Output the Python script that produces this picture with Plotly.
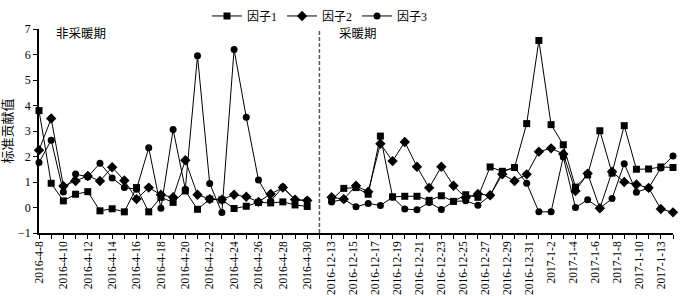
import plotly.graph_objects as go

# ---- data ----
period1_dates = ["2016-4-8", "2016-4-9", "2016-4-10", "2016-4-11", "2016-4-12", "2016-4-13",
                 "2016-4-14", "2016-4-15", "2016-4-16", "2016-4-17", "2016-4-18", "2016-4-19",
                 "2016-4-20", "2016-4-21", "2016-4-22", "2016-4-23", "2016-4-24", "2016-4-25",
                 "2016-4-26", "2016-4-27", "2016-4-28", "2016-4-29", "2016-4-30"]
period2_labels = ["2016-12-13", "2016-12-15", "2016-12-17", "2016-12-19", "2016-12-21",
                  "2016-12-23", "2016-12-25", "2016-12-27", "2016-12-29", "2016-12-31",
                  "2017-1-2", "2017-1-4", "2017-1-6", "2017-1-8", "2017-1-10", "2017-1-13"]

f1_p1 = [3.80, 0.95, 0.26, 0.52, 0.62, -0.13, -0.05, -0.17, 0.78, -0.17, 0.40, 0.20,
         0.65, -0.07, 0.33, 0.30, -0.04, 0.05, 0.20, 0.18, 0.22, 0.10, 0.04]
f2_p1 = [2.25, 3.49, 0.84, 1.04, 1.24, 1.04, 1.58, 1.06, 0.33, 0.78, 0.50, 0.40,
         1.85, 0.50, 0.33, 0.31, 0.50, 0.42, 0.22, 0.53, 0.78, 0.31, 0.27]
f3_p1 = [1.76, 2.64, 0.61, 1.31, 1.20, 1.74, 1.16, 0.78, 0.72, 2.34, -0.03, 3.06,
         0.72, 5.95, 0.94, -0.20, 6.20, 3.54, 1.08, 0.25, 0.80, 0.30, 0.28]

f1_p2 = [0.30, 0.75, 0.78, 0.52, 2.80, 0.42, 0.44, 0.44, 0.28, 0.46, 0.24, 0.50, 0.40,
         1.59, 1.42, 1.57, 3.29, 6.55, 3.25, 2.46, 0.80, 1.28, 3.01, 1.35, 3.21, 1.50,
         1.51, 1.59, 1.57]
f2_p2 = [0.40, 0.33, 0.85, 0.62, 2.50, 1.82, 2.57, 1.60, 0.77, 1.60, 0.85, 0.38, 0.53,
         0.48, 1.30, 1.04, 1.30, 2.19, 2.32, 2.10, 0.65, 1.33, -0.03, 1.40, 1.00, 0.90,
         0.77, -0.06, -0.19]
f3_p2 = [0.22, 0.32, 0.03, 0.16, 0.08, 0.40, -0.06, -0.09, 0.20, -0.08, 0.24, 0.26, 0.09,
         0.47, 1.40, 1.57, 0.95, -0.17, -0.17, 1.98, 0.00, 0.30, -0.03, 0.35, 1.72, 0.60,
         0.76, 1.55, 2.02]

series_names = ["因子1", "因子2", "因子3"]
y_ticks = [-1, 0, 1, 2, 3, 4, 5, 6, 7]

# ---- positions (category index, one empty slot between periods) ----
n1 = len(f1_p1)
n2 = len(f1_p2)
gap = n1
xs = list(range(n1)) + [None] + [gap + 1 + j for j in range(n2)]
x_last = gap + n2

FONT = "Times New Roman, Liberation Serif, Noto Sans CJK SC, serif"

fig = go.Figure()
symbols = ["square", "diamond", "circle"]
sizes = [7, 8, 7]
for name, p1, p2, sym, sz in zip(series_names, [f1_p1, f2_p1, f3_p1], [f1_p2, f2_p2, f3_p2],
                                 symbols, sizes):
    ys = p1 + [None] + p2
    fig.add_trace(go.Scatter(
        x=xs, y=ys, name=name, mode="lines+markers",
        line=dict(color="black", width=1),
        marker=dict(symbol=sym, size=sz, color="black"),
        connectgaps=False, cliponaxis=False,
    ))

# tick labels: every other day in period 1, the printed labels spread over period 2
label_vals = list(range(0, n1, 2)) + [gap + 1 + k * (n2 - 2) / (len(period2_labels) - 1)
                                      for k in range(len(period2_labels))]
label_text = period1_dates[::2] + period2_labels

# invisible helper trace so the label axis is drawn
fig.add_trace(go.Scatter(x=[0, x_last], y=[None, None], xaxis="x2", showlegend=False,
                         hoverinfo="skip"))

fig.add_shape(type="line", xref="x", yref="paper", x0=gap, x1=gap, y0=0, y1=1,
              line=dict(color="#5a5a5a", width=1.5, dash="4px,2px"))

fig.add_annotation(text="非采暖期", xref="paper", yref="paper", x=0.024, y=0.975,
                   xanchor="left", yanchor="middle", showarrow=False,
                   font=dict(size=12.5, family=FONT, color="black"))
fig.add_annotation(text="采暖期", xref="paper", yref="paper", x=0.47, y=0.975,
                   xanchor="left", yanchor="middle", showarrow=False,
                   font=dict(size=12.5, family=FONT, color="black"))

fig.update_layout(
    width=686, height=296,
    margin=dict(l=39, r=13, t=29, b=63, autoexpand=False),
    plot_bgcolor="white", paper_bgcolor="white",
    font=dict(family=FONT, color="black", size=11.5),
    showlegend=True,
    legend=dict(orientation="h", x=0.265, xanchor="left", y=1.135, yanchor="top",
                font=dict(size=12, family=FONT), itemwidth=30,
                bgcolor="rgba(0,0,0,0)", tracegroupgap=0),
    xaxis=dict(range=[0, x_last], showgrid=False, zeroline=False, automargin=False,
               showline=True, linecolor="black", linewidth=1.5,
               tickmode="linear", tick0=0, dtick=1, ticks="outside", ticklen=4,
               tickcolor="black", tickwidth=1, showticklabels=False),
    xaxis2=dict(range=[0, x_last], overlaying="x", side="bottom", anchor="y",
                showgrid=False, zeroline=False, showline=False, automargin=False,
                tickmode="array", tickvals=label_vals, ticktext=label_text,
                ticks="", tickangle=-90, ticklabelstandoff=5,
                tickfont=dict(size=11.5, family=FONT, color="black")),
    yaxis=dict(range=[-1, 7], tickvals=y_ticks, showgrid=False, zeroline=False,
               showline=True, linecolor="black", linewidth=1.5, automargin=False,
               ticks="outside", ticklen=4, tickcolor="black",
               tickfont=dict(size=12, family=FONT),
               title=dict(text="标准贡献值", standoff=6,
                          font=dict(size=13, family=FONT))),
)

fig.write_html("out.html", config={"displayModeBar": False},
               post_script="document.body.style.margin='0';document.body.style.overflow='hidden';")
